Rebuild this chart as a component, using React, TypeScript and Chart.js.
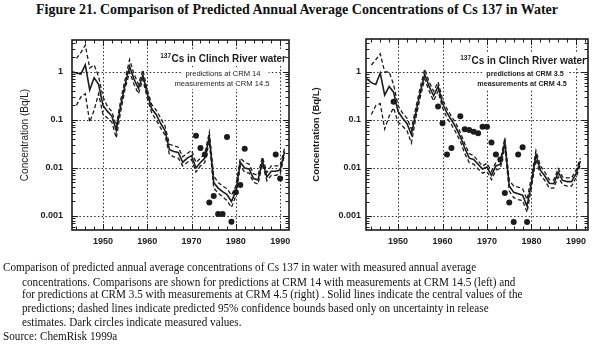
import React, { useEffect, useRef } from "react";
import { Chart, registerables } from "chart.js";

Chart.register(...registerables);

// ---------------- data ----------------
const YEARS = [
  1943, 1944, 1945, 1946, 1947, 1948, 1949, 1950, 1951, 1952, 1953, 1954, 1955, 1956, 1957, 1958, 1959,
  1960, 1961, 1962, 1963, 1964, 1965, 1966, 1967, 1968, 1969, 1970, 1971, 1972, 1973, 1974, 1975, 1976,
  1977, 1978, 1979, 1980, 1981, 1982, 1983, 1984, 1985, 1986, 1987, 1988, 1989, 1990, 1991,
];

const X_TICKS = [1950, 1960, 1970, 1980, 1990];
const Y_TICKS = [0.001, 0.01, 0.1, 1];
const Y_TICK_LABELS = ["0.001", "0.01", "0.1", "1"];

// Left panel: predictions at CRM 14, measurements at CRM 14.5
const LEFT_CENTRAL = [
  1.0, 0.95, 0.9, 1.4, 0.42, 0.75, 0.55, 0.2, 0.15, 0.12, 0.06, 0.2, 0.55, 1.3, 0.7, 0.45, 0.85,
  0.35, 0.17, 0.13, 0.085, 0.06, 0.024, 0.022, 0.021, 0.013, 0.016, 0.018, 0.01, 0.013, 0.016, 0.045, 0.005, 0.0038,
  0.0032, 0.0028, 0.002, 0.0033, 0.013, 0.01, 0.0095, 0.006, 0.0056, 0.014, 0.0065, 0.0085, 0.0085, 0.009, 0.022,
];
const LEFT_UPPER = [
  null, 1.9, 2.5, 3.6, 1.2, 1.4, 0.8, 0.3, 0.19, 0.15, 0.075, 0.26, 0.7, 1.8, 0.9, 0.55, 1.1,
  0.42, 0.21, 0.16, 0.11, 0.075, 0.031, 0.029, 0.027, 0.017, 0.02, 0.023, 0.013, 0.016, 0.02, 0.055, 0.0068, 0.005,
  0.0042, 0.0037, 0.0027, 0.0042, 0.016, 0.013, 0.012, 0.0075, 0.007, 0.017, 0.008, 0.011, 0.011, 0.011, 0.026,
];
const LEFT_LOWER = [
  null, 0.2, 0.3, 0.35, 0.09, 0.16, 0.35, 0.13, 0.11, 0.09, 0.042, 0.15, 0.45, 1.0, 0.55, 0.35, 0.7,
  0.28, 0.14, 0.1, 0.068, 0.048, 0.019, 0.017, 0.016, 0.011, 0.013, 0.015, 0.0082, 0.011, 0.013, 0.036, 0.0038, 0.003,
  0.0025, 0.0021, 0.0015, 0.0026, 0.011, 0.0082, 0.0078, 0.005, 0.0046, 0.012, 0.0054, 0.007, 0.007, 0.0075, 0.019,
];
const LEFT_MEAS_YEARS = [1971, 1972, 1973, 1974, 1975, 1976, 1977, 1978, 1979, 1980, 1981, 1982, 1989, 1990];
const LEFT_MEAS_VALUES = [0.047, 0.026, 0.019, 0.0019, 0.0026, 0.0011, 0.0011, 0.044, 0.00076, 0.0031, 0.0044, 0.025, 0.019, 0.006];

// Right panel: predictions at CRM 3.5, measurements at CRM 4.5
const RIGHT_CENTRAL = [
  0.72, 0.6, 0.55, 0.95, 0.33, 0.5, 0.38, 0.15, 0.11, 0.085, 0.05, 0.14, 0.38, 0.9, 0.5, 0.32, 0.5,
  0.22, 0.14, 0.1, 0.07, 0.045, 0.026, 0.016, 0.015, 0.012, 0.0095, 0.0105, 0.007, 0.011, 0.012, 0.035, 0.0042, 0.0031,
  0.0029, 0.0027, 0.0016, 0.005, 0.019, 0.009, 0.0068, 0.0048, 0.0047, 0.0082, 0.0055, 0.0052, 0.0052, 0.0075, 0.014,
];
const RIGHT_UPPER = [
  null, 1.4, 1.8, 2.4, 1.0, 1.0, 0.55, 0.2, 0.14, 0.11, 0.065, 0.18, 0.48, 1.15, 0.62, 0.4, 0.62,
  0.27, 0.17, 0.12, 0.085, 0.055, 0.032, 0.02, 0.018, 0.014, 0.011, 0.0125, 0.0085, 0.013, 0.014, 0.042, 0.0055, 0.0042,
  0.004, 0.0037, 0.0022, 0.0065, 0.023, 0.011, 0.0082, 0.0057, 0.0056, 0.0097, 0.0065, 0.0062, 0.0062, 0.009, 0.016,
];
const RIGHT_LOWER = [
  null, 0.13, 0.2, 0.22, 0.065, 0.12, 0.18, 0.09, 0.075, 0.06, 0.033, 0.11, 0.3, 0.72, 0.4, 0.25, 0.4,
  0.18, 0.11, 0.08, 0.055, 0.036, 0.02, 0.013, 0.012, 0.0095, 0.0078, 0.0085, 0.0057, 0.009, 0.0098, 0.028, 0.0033, 0.0024,
  0.0022, 0.0021, 0.0012, 0.004, 0.015, 0.0072, 0.0055, 0.0038, 0.0038, 0.0066, 0.0045, 0.0042, 0.0042, 0.0062, 0.012,
];
const RIGHT_MEAS_YEARS = [
  1949, 1959, 1960, 1961, 1962, 1964, 1965, 1966, 1967, 1968, 1969, 1970, 1971, 1972, 1973, 1974, 1975, 1976, 1977, 1978, 1979,
];
const RIGHT_MEAS_VALUES = [
  0.24, 0.19, 0.085, 0.019, 0.026, 0.12, 0.064, 0.062, 0.057, 0.053, 0.072, 0.072, 0.034, 0.019, 0.015, 0.003, 0.0019,
  0.00075, 0.019, 0.027, 0.00075,
];

const TITLE = "Figure 21. Comparison of Predicted Annual Average Concentrations of Cs 137 in Water";
const CAPTION_LINES = [
  "Comparison of predicted annual average concentrations of Cs 137 in water with measured annual average",
  "concentrations. Comparisons are shown for predictions at CRM 14 with measurements at CRM 14.5 (left)  and",
  "for predictions at CRM 3.5 with measurements at CRM 4.5 (right) . Solid lines indicate the central values of the",
  "predictions; dashed lines indicate predicted 95% confidence bounds based only on uncertainty in release",
  "estimates. Dark circles indicate measured values.",
  "Source: ChemRisk 1999a",
];
const Y_TITLE = "Concentration (Bq/L)";

// ---------------- drawing helpers ----------------
const INK = "#1c1c1c";

function toPoints(years: number[], vals: (number | null)[]) {
  return years.map((yr, i) => ({ x: yr, y: vals[i] }));
}

const framePlugin = {
  id: "framePlugin",
  beforeDatasetsDraw(chart: any, _args: any, opts: any) {
    const { ctx, chartArea: ca, scales } = chart;
    const xs = scales.x;
    const ys = scales.y;
    ctx.save();
    // dotted grid
    ctx.strokeStyle = "#2a2a2a";
    ctx.lineWidth = 1;
    ctx.setLineDash([1.5, 2.2]);
    for (const v of X_TICKS) {
      const px = Math.round(xs.getPixelForValue(v)) + 0.5;
      ctx.beginPath();
      ctx.moveTo(px, ca.top);
      ctx.lineTo(px, ca.bottom);
      ctx.stroke();
    }
    for (const v of Y_TICKS) {
      const py = Math.round(ys.getPixelForValue(v)) + 0.5;
      ctx.beginPath();
      ctx.moveTo(ca.left, py);
      ctx.lineTo(ca.right, py);
      ctx.stroke();
    }
    ctx.setLineDash([]);

    // annotation block
    const n = opts.note;
    ctx.fillStyle = INK;
    ctx.textBaseline = "alphabetic";
    ctx.font = n.font1;
    const w1 = ctx.measureText(n.line1).width;
    const x1r = ca.right - n.l1Right;
    const b1 = ca.top + n.l1Base;
    ctx.font = n.fontSup;
    const ws = ctx.measureText(n.sup).width;
    ctx.fillStyle = "#fff";
    ctx.fillRect(x1r - w1 - ws - 4, b1 - 12, ca.right - (x1r - w1 - ws - 4) - 1, 15);
    const rows = [
      { t: n.line2, cx: ca.right - n.l2Center, b: ca.top + n.l2Base },
      { t: n.line3, cx: ca.right - n.l3Center, b: ca.top + n.l3Base },
    ];
    ctx.font = n.font2;
    for (const r of rows) {
      const w = ctx.measureText(r.t).width;
      ctx.fillStyle = "#fff";
      ctx.fillRect(r.cx - w / 2 - n.padL, r.b - 9, w + n.padL + n.padR, 12);
    }
    ctx.fillStyle = INK;
    ctx.textAlign = "right";
    ctx.font = n.font1;
    ctx.fillText(n.line1, x1r, b1);
    ctx.font = n.fontSup;
    ctx.fillText(n.sup, x1r - w1 - 0.5, b1 - 4.5);
    ctx.textAlign = "center";
    ctx.font = n.font2;
    for (const r of rows) ctx.fillText(r.t, r.cx, r.b);
    ctx.restore();
  },
  afterDraw(chart: any) {
    const { ctx, chartArea: ca, scales } = chart;
    const xs = scales.x;
    const ys = scales.y;
    ctx.save();
    ctx.strokeStyle = INK;
    ctx.lineWidth = 1.6;
    ctx.strokeRect(ca.left, ca.top, ca.right - ca.left, ca.bottom - ca.top);
    ctx.lineWidth = 1;
    for (let yr = 1944; yr <= 1992; yr += 2) {
      const px = Math.round(xs.getPixelForValue(yr)) + 0.5;
      if (px < ca.left + 1 || px > ca.right - 1) continue;
      const len = yr % 10 === 0 ? 6 : 3.5;
      ctx.beginPath();
      ctx.moveTo(px, ca.bottom);
      ctx.lineTo(px, ca.bottom - len);
      ctx.moveTo(px, ca.top);
      ctx.lineTo(px, ca.top + len);
      ctx.stroke();
    }
    for (let e = -4; e <= 1; e++) {
      for (let k = 1; k <= 9; k++) {
        const v = k * Math.pow(10, e);
        const py = Math.round(ys.getPixelForValue(v)) + 0.5;
        if (py < ca.top + 1 || py > ca.bottom - 1) continue;
        const len = k === 1 ? 6 : 3.5;
        ctx.beginPath();
        ctx.moveTo(ca.left, py);
        ctx.lineTo(ca.left + len, py);
        ctx.moveTo(ca.right, py);
        ctx.lineTo(ca.right - len, py);
        ctx.stroke();
      }
    }
    ctx.restore();
  },
};

type PanelProps = {
  left: number;
  width: number;
  central: (number | null)[];
  upper: (number | null)[];
  lower: (number | null)[];
  measYears: number[];
  measValues: number[];
  xMin: number;
  xMax: number;
  yMin: number;
  yMax: number;
  axisW: number;
  padTop: number;
  padRight: number;
  titlePad: number;
  yTickPad: number;
  titleFont: any;
  tickFont: any;
  note: any;
};

function Panel(p: PanelProps) {
  const ref = useRef<HTMLCanvasElement>(null);
  useEffect(() => {
    if (!ref.current) return;
    const lineBase = {
      type: "line" as const,
      borderColor: INK,
      pointRadius: 0,
      tension: 0,
      fill: false,
      spanGaps: false,
    };
    const chart = new Chart(ref.current, {
      type: "line",
      data: {
        datasets: [
          { ...lineBase, data: toPoints(YEARS, p.upper) as any, borderWidth: 1.3, borderDash: [4, 2.5] },
          { ...lineBase, data: toPoints(YEARS, p.lower) as any, borderWidth: 1.3, borderDash: [4, 2.5] },
          { ...lineBase, data: toPoints(YEARS, p.central) as any, borderWidth: 1.6 },
          {
            type: "scatter" as any,
            data: toPoints(p.measYears, p.measValues) as any,
            showLine: false,
            pointRadius: 3,
            pointBackgroundColor: INK,
            pointBorderColor: INK,
            pointBorderWidth: 0,
          } as any,
        ],
      },
      options: {
        responsive: false,
        animation: false,
        events: [],
        layout: { padding: { top: p.padTop, right: p.padRight, left: 0, bottom: 0 } },
        plugins: {
          legend: { display: false },
          tooltip: { enabled: false },
          framePlugin: { note: p.note },
        } as any,
        scales: {
          x: {
            type: "linear",
            min: p.xMin,
            max: p.xMax,
            afterBuildTicks: (s: any) => {
              s.ticks = X_TICKS.map((v) => ({ value: v }));
            },
            afterFit: (s: any) => {
              s.height = 30;
            },
            grid: { display: false, drawTicks: false },
            border: { display: false },
            ticks: {
              autoSkip: false,
              maxRotation: 0,
              padding: 6,
              color: INK,
              font: p.tickFont,
              callback: (v: any) => String(v),
            },
          },
          y: {
            type: "logarithmic",
            min: p.yMin,
            max: p.yMax,
            afterBuildTicks: (s: any) => {
              s.ticks = Y_TICKS.map((v) => ({ value: v }));
            },
            afterFit: (s: any) => {
              s.width = p.axisW;
            },
            grid: { display: false, drawTicks: false },
            border: { display: false },
            ticks: {
              autoSkip: false,
              padding: p.yTickPad,
              color: INK,
              font: p.tickFont,
              callback: (v: any) => {
                const i = Y_TICKS.indexOf(v);
                return i >= 0 ? Y_TICK_LABELS[i] : "";
              },
            },
            title: {
              display: true,
              text: Y_TITLE,
              color: INK,
              font: p.titleFont,
              padding: { top: p.titlePad, bottom: 0 },
            },
          },
        },
      },
      plugins: [framePlugin as any],
    });
    return () => chart.destroy();
  }, []);
  return (
    <canvas
      ref={ref}
      width={p.width}
      height={240}
      style={{ position: "absolute", left: p.left, top: 20, width: p.width, height: 240 }}
    />
  );
}

export default function App() {
  const serif = '"Liberation Serif", "Times New Roman", serif';
  return (
    <div
      style={{
        position: "absolute",
        left: 0,
        top: 0,
        width: 594,
        height: 355,
        background: "#fff",
        overflow: "hidden",
        color: "#111",
      }}
    >
      <div
        style={{
          position: "absolute",
          top: 2,
          left: 0,
          width: 594,
          textAlign: "center",
          fontFamily: serif,
          fontWeight: "bold",
          fontSize: 14,
          lineHeight: "15px",
          whiteSpace: "nowrap",
        }}
      >
        {TITLE}
      </div>
      <Panel
        left={0}
        width={300}
        central={LEFT_CENTRAL}
        upper={LEFT_UPPER}
        lower={LEFT_LOWER}
        measYears={LEFT_MEAS_YEARS}
        measValues={LEFT_MEAS_VALUES}
        xMin={1943}
        xMax={1992}
        yMin={0.00051}
        yMax={4.6}
        axisW={72}
        padTop={20}
        padRight={11}
        titlePad={19}
        yTickPad={9}
        titleFont={{ family: "Liberation Sans", size: 10, weight: "normal" }}
        tickFont={{ family: "Liberation Sans", size: 9, weight: "bold" }}
        note={{
          sup: "137",
          line1: "Cs in Clinch River water",
          line2: "predictions at CRM 14",
          line3: "measurements at CRM 14.5",
          font1: "bold 10px 'Liberation Sans'",
          fontSup: "bold 6.5px 'Liberation Sans'",
          font2: "7.6px 'Liberation Sans'",
          l1Right: 3,
          l1Base: 22,
          l2Center: 66,
          l2Base: 36,
          l3Center: 67,
          l3Base: 46,
          padL: 4,
          padR: 8,
        }}
      />
      <Panel
        left={300}
        width={294}
        central={RIGHT_CENTRAL}
        upper={RIGHT_UPPER}
        lower={RIGHT_LOWER}
        measYears={RIGHT_MEAS_YEARS}
        measValues={RIGHT_MEAS_VALUES}
        xMin={1942.8}
        xMax={1992.7}
        yMin={0.00051}
        yMax={4.87}
        axisW={66}
        padTop={19}
        padRight={6}
        titlePad={11}
        yTickPad={5}
        titleFont={{ family: "Liberation Sans", size: 9.5, weight: "bold" }}
        tickFont={{ family: "Liberation Sans", size: 9, weight: "bold" }}
        note={{
          sup: "137",
          line1: "Cs in Clinch River water",
          line2: "predictions at CRM 3.5",
          line3: "measurements at CRM 4.5",
          font1: "bold 10px 'Liberation Sans'",
          fontSup: "bold 6.5px 'Liberation Sans'",
          font2: "bold 7.2px 'Liberation Sans'",
          l1Right: 2,
          l1Base: 25,
          l2Center: 63,
          l2Base: 37,
          l3Center: 66,
          l3Base: 47,
          padL: 4,
          padR: 4,
        }}
      />
      {CAPTION_LINES.map((t, i) => (
        <div
          key={i}
          style={{
            position: "absolute",
            left: i === 0 || i === 5 ? 3 : 22,
            top: [260, 274.5, 287, 301, 315, 329][i],
            fontFamily: serif,
            fontSize: 13,
            lineHeight: "14px",
            whiteSpace: "nowrap",
            transform: "scaleX(0.86)",
            transformOrigin: "0 0",
          }}
        >
          {t}
        </div>
      ))}
    </div>
  );
}
